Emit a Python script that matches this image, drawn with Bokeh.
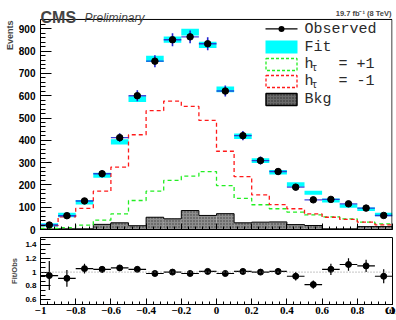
import numpy as np
from bokeh.plotting import figure
from bokeh.models import (Range1d, FixedTicker, Label, Span, Title,
                          BoxAnnotation, CustomLabelingPolicy)
from bokeh.layouts import column
from bokeh.embed import file_html
from bokeh.resources import INLINE

# ---------------- data ----------------
bin_centers = [-0.95, -0.85, -0.75, -0.65, -0.55, -0.45, -0.35, -0.25, -0.15, -0.05,
               0.05, 0.15, 0.25, 0.35, 0.45, 0.55, 0.65, 0.75, 0.85, 0.95]
bin_width = 0.1
observed = [20, 62, 128, 250, 412, 600, 755, 851, 864, 833,
            621, 421, 309, 260, 190, 133, 135, 115, 96, 63]
observed_err = [5, 8, 11, 16, 20, 25, 27, 29, 29, 29,
                25, 21, 18, 16, 14, 12, 12, 11, 10, 8]
fit = [20, 65, 122, 243, 393, 585, 765, 852, 885, 828,
       628, 418, 309, 257, 202, 165, 130, 105, 91, 67]
fit_err = [8, 10, 10, 11, 12, 13, 14, 14, 15, 14,
           13, 12, 11, 10, 10, 9, 9, 8, 8, 8]
h_plus = [5, 8, 20, 42, 70, 130, 172, 220, 239, 260,
          197, 140, 111, 93, 78, 66, 57, 48, 33, 25]
h_minus = [18, 57, 95, 172, 280, 425, 533, 576, 552, 489,
           351, 237, 155, 112, 93, 70, 55, 45, 33, 21]
bkg = [2, 3, 3, 23, 30, 17, 55, 48, 85, 63,
       71, 30, 33, 34, 22, 18, 3, 3, 13, 13]
ratio = [0.95, 0.91, 1.05, 1.04, 1.06, 1.04, 0.98, 1.00, 0.98, 1.01,
         0.98, 1.01, 1.00, 1.01, 0.94, 0.82, 1.04, 1.11, 1.09, 0.94]
ratio_err = [0.21, 0.12, 0.07, 0.05, 0.04, 0.04, 0.03, 0.03, 0.03, 0.03,
             0.03, 0.04, 0.04, 0.05, 0.06, 0.06, 0.08, 0.09, 0.09, 0.10]

x_ticks = [-1, -0.8, -0.6, -0.4, -0.2, 0, 0.2, 0.4, 0.6, 0.8, 1]
x_tick_labels = ["\u22121", "\u22120.8", "\u22120.6", "\u22120.4", "\u22120.2", "0",
                 "0.2", "0.4", "0.6", "0.8", "1"]
y_ticks = [0, 100, 200, 300, 400, 500, 600, 700, 800, 900]
y_max = 942
ratio_ticks = [0.6, 0.8, 1, 1.2, 1.4]
ratio_tick_labels = ["0.6", "0.8", "1", "1.2", "1.4"]
legend_labels = ["Observed", "Fit", "h", "h", "Bkg"]

# derived geometry
c = np.array(bin_centers)
left = c - bin_width / 2
right = c + bin_width / 2
edges = list(left) + [right[-1]]


def step_y(vals):
    return list(vals) + [vals[-1]]


obs = np.array(observed)
oerr = np.array(observed_err)
fitv = np.array(fit)
ferr = np.array(fit_err)
rat = np.array(ratio)
rerr = np.array(ratio_err)

GREEN = "#22ee22"
RED = "#ff1a1a"
BLUE = "#2323d2"
SANS = "Liberation Sans"
MONO = "Liberation Mono"

minor_x = list(np.round(np.arange(-1, 1.0001, 0.04), 3))
minor_y = list(np.arange(0, y_max, 20))

FRAME_W = 352

# ---------------- main panel ----------------
# frame extends to the top of the canvas; the visible box stops at y_max
p = figure(width=396, height=235, x_range=Range1d(-1, 1), y_range=Range1d(0, 1027),
           output_backend="svg", toolbar_location=None,
           min_border_left=40, min_border_right=4, min_border_top=0, min_border_bottom=6)
p.grid.visible = False
p.outline_line_color = None
p.background_fill_color = "white"
p.border_fill_color = "white"

# background (hatched grey)
p.quad(left=left, right=right, bottom=0, top=bkg, fill_color="#8e8e8e",
       hatch_pattern=".", hatch_color="#3a3a3a", hatch_scale=3, hatch_weight=1,
       line_color=None)
p.step(x=edges, y=step_y(bkg), mode="after", line_color="black", line_width=1)

# fit band
p.quad(left=left, right=right, bottom=fitv - ferr, top=fitv + ferr,
       fill_color="#00ffff", line_color=None)

# templates
p.step(x=edges, y=step_y(h_plus), mode="after", line_color=GREEN, line_width=1.3,
       line_dash="4 3")
p.step(x=edges, y=step_y(h_minus), mode="after", line_color=RED, line_width=1.3,
       line_dash="4 3")

# observed
p.segment(x0=left, x1=right, y0=obs, y1=obs, line_color=BLUE, line_width=1.4, line_alpha=0.85)
p.segment(x0=c, x1=c, y0=obs - oerr, y1=obs + oerr, line_color=BLUE, line_width=1.6)
p.scatter(x=c, y=obs, size=6.5, color="black")

# visible plot box
p.add_layout(BoxAnnotation(left=-1, right=FRAME_W - 0.5, bottom=0, top=y_max,
                           right_units="screen", fill_color=None, fill_alpha=0,
                           line_color="black", line_alpha=1, line_width=1))

# axes
p.xaxis.ticker = FixedTicker(ticks=x_ticks, minor_ticks=minor_x)
p.xaxis.major_tick_in = 6
p.xaxis.major_tick_out = 0
p.xaxis.minor_tick_in = 3
p.xaxis.minor_tick_out = 0
p.xaxis.major_label_text_font_size = "0px"
p.xaxis.major_label_standoff = 0
p.xaxis.major_label_policy = CustomLabelingPolicy(code="""
try { return new indices.constructor(indices.size, 0) } catch (e) { return indices }
""")
p.xaxis.axis_line_color = "black"

p.yaxis.ticker = FixedTicker(ticks=y_ticks, minor_ticks=minor_y)
p.yaxis.bounds = (0, y_max)
p.yaxis.major_tick_in = 11
p.yaxis.major_tick_out = 0
p.yaxis.minor_tick_in = 5
p.yaxis.minor_tick_out = 0
p.yaxis.major_label_text_font = SANS
p.yaxis.major_label_text_font_style = "bold"
p.yaxis.major_label_text_font_size = "10px"
p.yaxis.major_label_text_color = "black"
p.yaxis.major_label_standoff = 5

p.add_layout(Title(text="Events", align="right", offset=20, standoff=2,
                   text_font=SANS, text_font_style="bold", text_font_size="9px"), "left")


def box(l, r_, b, t, **kw):
    props = dict(left=l, right=r_, bottom=b, top=t, left_units="screen",
                 right_units="screen", bottom_units="screen", top_units="screen",
                 fill_alpha=1, line_alpha=1, line_color=None, fill_color=None)
    props.update(kw)
    p.add_layout(BoxAnnotation(**props))


# manual legend (screen units relative to the frame bottom-left)
box(225, 257, 200, 201.3, fill_color="black")
box(238, 244, 197.5, 203.5, fill_color="black", border_radius=3)
box(225, 257, 176, 189, fill_color="#00ffff")
box(225.5, 256.5, 159, 171, line_color=GREEN, line_width=1.3, line_dash="3 2")
box(225.5, 256.5, 142, 154, line_color=RED, line_width=1.3, line_dash="3 2")
box(225.5, 256.5, 124, 136, fill_color="#6a6a6a", hatch_pattern=".",
    hatch_color="#2a2a2a", hatch_scale=3, hatch_weight=1, line_color="black",
    line_width=1.5)

for txt, y in zip(legend_labels, [200.5, 182.5, 165, 148, 130]):
    p.add_layout(Label(x=264, y=y, x_units="screen", y_units="screen", text=txt,
                       text_font=MONO, text_font_size="15px", text_baseline="middle",
                       text_color="#2a2a2a"))

for txt, x, y, size in [("\u03c4", 271, 161, "10px"), ("= +1", 298, 165, "15px"),
                        ("\u03c4", 271, 144, "10px"), ("= -1", 298, 148, "15px")]:
    p.add_layout(Label(x=x, y=y, x_units="screen", y_units="screen", text=txt,
                       text_font=MONO, text_font_size=size,
                       text_baseline="middle", text_color="#2a2a2a"))

# header texts (inside the extended frame)
p.add_layout(Label(x=0, y=212, x_units="screen", y_units="screen", text="CMS",
                   text_font=SANS, text_font_style="bold", text_font_size="16px",
                   text_baseline="alphabetic"))
p.add_layout(Label(x=44, y=212, x_units="screen", y_units="screen", text="Preliminary",
                   text_font=SANS, text_font_style="italic", text_font_size="12px",
                   text_baseline="alphabetic"))
p.add_layout(Label(x=FRAME_W - 1, y=216, x_units="screen", y_units="screen",
                   text="19.7 fb\u207b\u00b9 (8 TeV)", text_align="right",
                   text_font=SANS, text_font_style="bold", text_font_size="7.5px",
                   text_baseline="alphabetic"))

# ---------------- ratio panel ----------------
r = figure(width=396, height=85, x_range=p.x_range, y_range=Range1d(0.532, 1.5),
           output_backend="svg", toolbar_location=None,
           min_border_left=40, min_border_right=4, min_border_top=2, min_border_bottom=16)
r.grid.visible = False
r.outline_line_color = "black"
r.background_fill_color = "white"
r.border_fill_color = "white"

r.add_layout(Span(location=1, dimension="width", line_color="#8a8a8a",
                  line_dash="1 2", line_width=1))
r.segment(x0=left, x1=right, y0=rat, y1=rat, line_color="black", line_width=1.2)
r.segment(x0=c, x1=c, y0=rat - rerr, y1=rat + rerr, line_color="black", line_width=1.2)
r.scatter(x=c, y=rat, size=6, color="black")

r.xaxis.ticker = FixedTicker(ticks=x_ticks, minor_ticks=minor_x)
r.xaxis.major_label_overrides = dict(zip(x_ticks, x_tick_labels))
r.xaxis.major_tick_in = 6
r.xaxis.major_tick_out = 0
r.xaxis.minor_tick_in = 3
r.xaxis.minor_tick_out = 0
r.xaxis.major_label_text_font = "Liberation Serif"
r.xaxis.major_label_text_font_style = "bold"
r.xaxis.major_label_text_font_size = "11px"
r.xaxis.major_label_text_color = "black"
r.xaxis.major_label_standoff = 2
r.xaxis.axis_label = "\u03c9\u2090"
r.xaxis.axis_label_align = "end"
r.xaxis.axis_label_standoff = -16
r.xaxis.axis_label_text_font = "Liberation Serif"
r.xaxis.axis_label_text_font_style = "bold"
r.xaxis.axis_label_text_font_size = "15px"
r.xaxis.axis_label_text_color = "black"

minor_r = list(np.round(np.arange(0.6 - 0.2 / 3, 1.5, 0.2 / 3), 4))
r.yaxis.ticker = FixedTicker(ticks=ratio_ticks, minor_ticks=minor_r)
r.yaxis.major_label_overrides = dict(zip(ratio_ticks, ratio_tick_labels))
r.yaxis.major_tick_in = 10
r.yaxis.major_tick_out = 0
r.yaxis.minor_tick_in = 5
r.yaxis.minor_tick_out = 0
r.yaxis.major_label_text_font = SANS
r.yaxis.major_label_text_font_style = "bold"
r.yaxis.major_label_text_font_size = "8px"
r.yaxis.major_label_text_color = "black"
r.yaxis.major_label_standoff = 4

r.add_layout(Title(text="Fit/Obs", align="center", standoff=7,
                   text_font=SANS, text_font_style="bold", text_font_size="7.5px"), "left")

layout = column(p, r)
open("out.html", "w").write(file_html(layout, INLINE))
